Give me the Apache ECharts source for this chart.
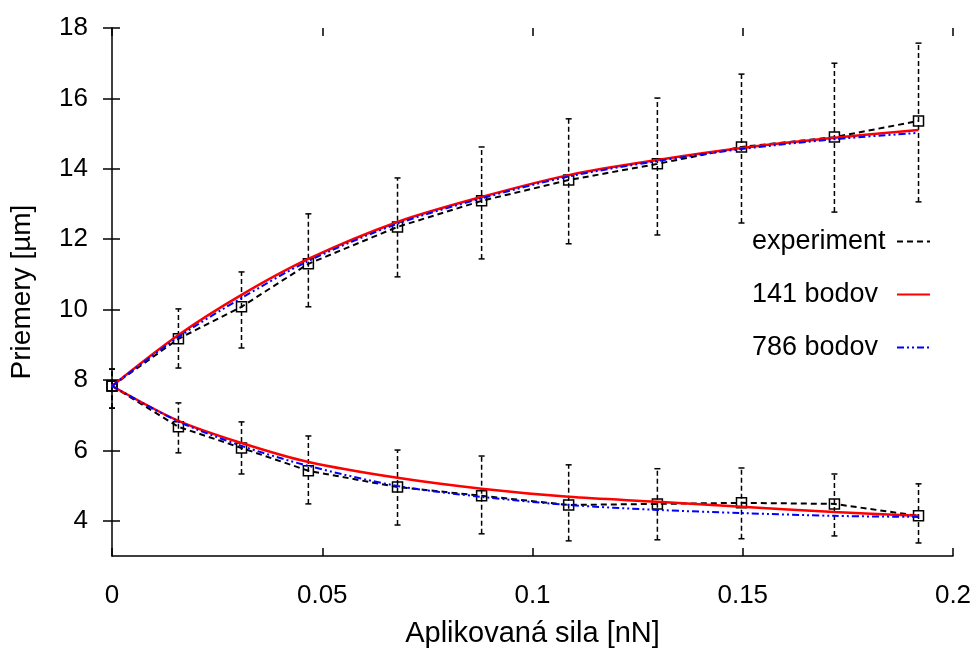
<!DOCTYPE html>
<html>
<head>
<meta charset="utf-8">
<script src="https://cdn.jsdelivr.net/npm/echarts@6/dist/echarts.min.js"></script>
<style>
  html, body { margin: 0; padding: 0; background: #fff; }
  #chart { width: 978px; height: 655px; }
</style>
</head>
<body>
<div id="chart"></div>
<script>
// Applied force [nN] for each measurement
const forceNN = [0, 0.0158, 0.0308, 0.0467, 0.0679, 0.0879, 0.1086, 0.1297, 0.1497, 0.1718, 0.1918];

// Measured diameters [µm]: upper branch with error bar limits
const expUpper   = [7.83, 9.17, 10.08, 11.30, 12.35, 13.09, 13.68, 14.14, 14.62, 14.90, 15.36];
const expUpperHi = [8.31, 10.02, 11.07, 12.72, 13.74, 14.62, 15.42, 16.01, 16.69, 17.00, 17.57];
const expUpperLo = [7.20, 8.34, 8.91, 10.08, 10.93, 11.44, 11.87, 12.12, 12.46, 12.77, 13.06];

// Measured diameters [µm]: lower branch with error bar limits
const expLower   = [7.83, 6.67, 6.07, 5.42, 4.96, 4.71, 4.45, 4.48, 4.51, 4.48, 4.14];
const expLowerHi = [8.31, 7.35, 6.81, 6.41, 6.01, 5.84, 5.59, 5.48, 5.50, 5.33, 5.05];
const expLowerLo = [7.20, 5.93, 5.33, 4.48, 3.88, 3.63, 3.43, 3.46, 3.49, 3.57, 3.37];

// Model with 141 points
const m141Upper = [7.83, 9.28, 10.42, 11.44, 12.49, 13.20, 13.82, 14.25, 14.59, 14.88, 15.10];
const m141Lower = [7.83, 6.84, 6.21, 5.67, 5.22, 4.91, 4.68, 4.54, 4.40, 4.25, 4.14];

// Model with 786 points
const m786Upper = [7.83, 9.22, 10.33, 11.38, 12.44, 13.16, 13.78, 14.22, 14.56, 14.84, 15.02];
const m786Lower = [7.83, 6.82, 6.13, 5.56, 4.99, 4.68, 4.45, 4.31, 4.22, 4.14, 4.11];

// Axis ticks
const xTicks = [0, 0.05, 0.1, 0.15, 0.2];
const yTicks = [4, 6, 8, 10, 12, 14, 16, 18];

const legendNames = ['experiment', '141 bodov', '786 bodov'];

const FONT = "'Liberation Sans', Arial, Helvetica, sans-serif";

const pairs = (xs, ys) => xs.map((x, i) => [x, ys[i]]);
const triples = (xs, lo, hi) => xs.map((x, i) => [x, lo[i], hi[i]]);

function renderErrorBar(params, api) {
  const x = api.value(0);
  const pLo = api.coord([x, api.value(1)]);
  const pHi = api.coord([x, api.value(2)]);
  const cap = 3;
  const solid = { stroke: '#000', lineWidth: 1.5 };
  return {
    type: 'group',
    children: [
      { type: 'line', shape: { x1: pLo[0], y1: pLo[1], x2: pHi[0], y2: pHi[1] },
        style: { stroke: '#000', lineWidth: 1.5, lineDash: [5, 3] } },
      { type: 'line', shape: { x1: pHi[0] - cap, y1: pHi[1], x2: pHi[0] + cap, y2: pHi[1] }, style: solid },
      { type: 'line', shape: { x1: pLo[0] - cap, y1: pLo[1], x2: pLo[0] + cap, y2: pLo[1] }, style: solid }
    ]
  };
}

const expStyle = {
  type: 'line',
  name: 'experiment',
  symbol: 'rect',
  symbolSize: 10,
  clip: false,
  z: 2,
  lineStyle: { color: '#000', width: 2, type: [6, 4] },
  itemStyle: { color: 'rgba(0,0,0,0)', borderColor: '#000', borderWidth: 1.5 },
  emphasis: { disabled: true }
};
const redStyle = {
  type: 'line',
  name: '141 bodov',
  symbol: 'none',
  smooth: 0.3,
  z: 3,
  lineStyle: { color: '#ff0000', width: 2.5 },
  itemStyle: { color: '#ff0000' }
};
const blueStyle = {
  type: 'line',
  name: '786 bodov',
  symbol: 'none',
  smooth: 0.3,
  z: 4,
  lineStyle: { color: '#0000ff', width: 2, type: [7, 3, 2, 3, 2, 3] },
  itemStyle: { color: '#0000ff' }
};

const chart = echarts.init(document.getElementById('chart'), null, { renderer: 'canvas' });

const tickCommon = { inside: true, length: 8, lineStyle: { color: '#000', width: 1.5 } };

chart.setOption({
  animation: false,
  backgroundColor: '#fff',
  textStyle: { fontFamily: FONT, color: '#000' },
  grid: { left: 112, right: 25, top: 28, bottom: 99, containLabel: false },
  legend: {
    orient: 'vertical',
    left: 747,
    top: 223,
    align: 'right',
    itemWidth: 33,
    itemHeight: 20,
    itemGap: 26,
    selectedMode: false,
    formatter: (name) => '{t|' + name + '}',
    textStyle: {
      fontFamily: FONT, fontSize: 27, color: '#000',
      rich: { t: { width: 140, align: 'left', fontFamily: FONT, fontSize: 27, color: '#000' } }
    },
    data: legendNames.map(n => ({ name: n, itemStyle: { opacity: 0 } }))
  },
  xAxis: [
    {
      type: 'value', position: 'bottom', min: xTicks[0], max: xTicks[xTicks.length - 1], interval: 0.05,
      name: 'Aplikovaná sila [nN]', nameLocation: 'middle', nameGap: 63,
      nameTextStyle: { fontFamily: FONT, fontSize: 29, color: '#000' },
      axisLine: { show: true, lineStyle: { color: '#000', width: 1.5 } },
      axisTick: tickCommon,
      axisLabel: { fontFamily: FONT, fontSize: 26, color: '#000', margin: 27,
        formatter: v => String(+v.toFixed(2)) },
      splitLine: { show: false }
    },
    {
      type: 'value', position: 'top', min: xTicks[0], max: xTicks[xTicks.length - 1], interval: 0.05,
      axisLine: { show: false },
      axisTick: { show: true, inside: true, length: 8, lineStyle: { color: '#000', width: 1.5 } },
      axisLabel: { show: false },
      splitLine: { show: false }
    }
  ],
  yAxis: [
    {
      type: 'value', position: 'left', min: 3, max: 18,
      name: 'Priemery [µm]', nameLocation: 'middle', nameGap: 76, nameRotate: 90,
      nameTextStyle: { fontFamily: FONT, fontSize: 28, color: '#000' },
      axisLine: { show: true, lineStyle: { color: '#000', width: 1.5 } },
      axisTick: Object.assign({ customValues: yTicks }, tickCommon),
      axisLabel: { fontFamily: FONT, fontSize: 26, color: '#000', margin: 24, customValues: yTicks },
      splitLine: { show: false }
    },
    {
      type: 'value', position: 'right', min: 3, max: 18,
      axisLine: { show: false },
      axisTick: { show: true, inside: true, length: 9, customValues: yTicks,
        lineStyle: { color: '#000', width: 1.5 } },
      axisLabel: { show: false, customValues: yTicks },
      splitLine: { show: false }
    }
  ],
  series: [
    { type: 'custom', name: 'chyba horná', renderItem: renderErrorBar, clip: false, z: 1,
      encode: { x: 0, y: [1, 2] }, data: triples(forceNN, expUpperLo, expUpperHi) },
    { type: 'custom', name: 'chyba dolná', renderItem: renderErrorBar, clip: false, z: 1,
      encode: { x: 0, y: [1, 2] }, data: triples(forceNN, expLowerLo, expLowerHi) },
    Object.assign({ data: pairs(forceNN, expUpper) }, expStyle),
    Object.assign({ data: pairs(forceNN, expLower) }, expStyle),
    Object.assign({ data: pairs(forceNN, m141Upper) }, redStyle),
    Object.assign({ data: pairs(forceNN, m141Lower) }, redStyle),
    Object.assign({ data: pairs(forceNN, m786Upper) }, blueStyle),
    Object.assign({ data: pairs(forceNN, m786Lower) }, blueStyle)
  ]
});
</script>
</body>
</html>
